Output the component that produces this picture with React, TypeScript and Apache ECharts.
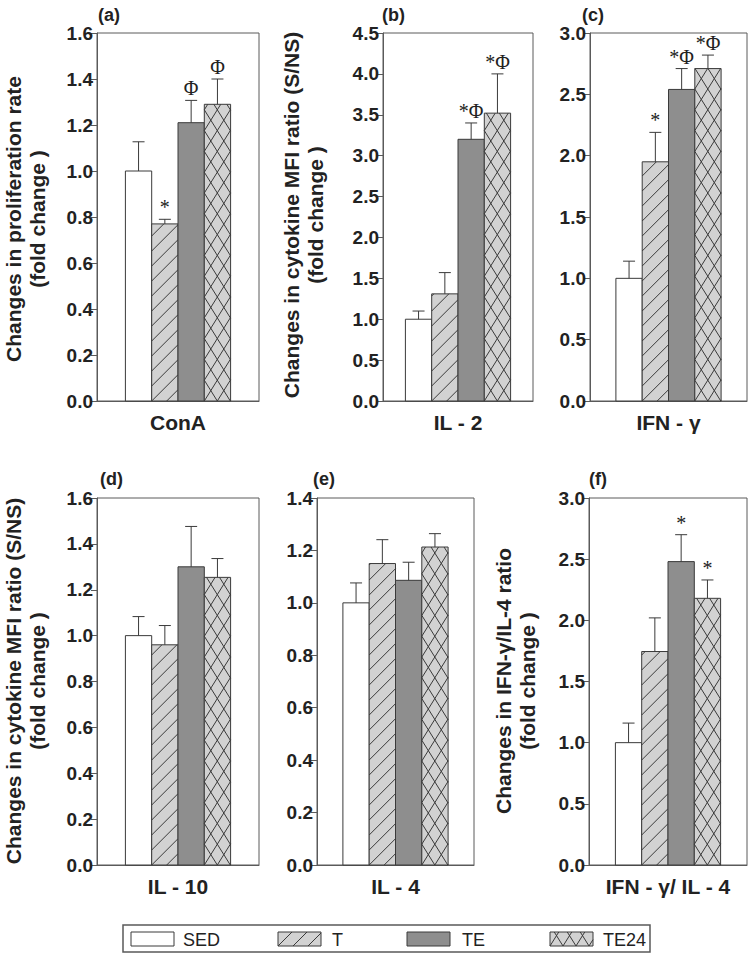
import React, { useEffect, useRef } from 'react';
import * as echarts from 'echarts';

// ---- data ----
const groups = ['SED', 'T', 'TE', 'TE24'];
const categories = ['ConA', 'IL - 2', 'IFN - γ', 'IL - 10', 'IL - 4', 'IFN - γ/ IL - 4'];
const panelLabels = ['(a)', '(b)', '(c)', '(d)', '(e)', '(f)'];
const yMax = [1.6, 4.5, 3.0, 1.6, 1.4, 3.0];
const yStep = [0.2, 0.5, 0.5, 0.2, 0.2, 0.5];

const conAMean = [1.0, 0.77, 1.21, 1.29];
const conASem = [0.127, 0.02, 0.097, 0.11];
const il2Mean = [1.0, 1.31, 3.2, 3.52];
const il2Sem = [0.1, 0.26, 0.2, 0.48];
const ifnMean = [1.0, 1.95, 2.54, 2.71];
const ifnSem = [0.14, 0.24, 0.17, 0.11];
const il10Mean = [1.0, 0.96, 1.3, 1.254];
const il10Sem = [0.083, 0.084, 0.176, 0.082];
const il4Mean = [1.0, 1.15, 1.086, 1.213];
const il4Sem = [0.076, 0.091, 0.069, 0.051];
const ratioMean = [1.0, 1.745, 2.48, 2.18];
const ratioSem = [0.16, 0.275, 0.22, 0.15];

const conAMarks = ['', '*', 'Φ', 'Φ'];
const il2Marks = ['', '', '*Φ', '*Φ'];
const ifnMarks = ['', '*', '*Φ', '*Φ'];
const il10Marks = ['', '', '', ''];
const il4Marks = ['', '', '', ''];
const ratioMarks = ['', '', '*', '*'];

const means = [conAMean, il2Mean, ifnMean, il10Mean, il4Mean, ratioMean];
const sems = [conASem, il2Sem, ifnSem, il10Sem, il4Sem, ratioSem];
const marks = [conAMarks, il2Marks, ifnMarks, il10Marks, il4Marks, ratioMarks];

const yTitleA = ['Changes in proliferation rate', '(fold change )'];
const yTitleB = ['Changes in cytokine MFI ratio (S/NS)', '(fold change )'];
const yTitleF = ['Changes in IFN-γ/IL-4 ratio', '(fold change )'];
const yTitles = [yTitleA, yTitleB, null, yTitleB, null, yTitleF];

// ---- layout / style ----
const panels = [
  { left: 97, top: 33, width: 162, height: 368 },
  { left: 383, top: 33, width: 150, height: 368 },
  { left: 590, top: 33, width: 157, height: 368 },
  { left: 97, top: 498, width: 162, height: 367 },
  { left: 317, top: 498, width: 157, height: 367 },
  { left: 589, top: 498, width: 158, height: 367 },
];
const titlePos = [[25, 219], [303, 215], null, [25, 681], null, [515, 681]];
const labelPos = [[98, 6], [382, 6], [582, 6], [100, 470], [313, 470], [589, 470]];

const FILLS = ['#ffffff', '#d2d2d2', '#8e8e8e', '#d2d2d2'];
const PATTERNS = ['none', 'diag', 'none', 'cross'];
const EDGE = '#3a3a3a';
const FRAME = '#5a5a5a';
const BAR_W = 26.3;
const SANS = '"Liberation Sans", Arial, sans-serif';
const SERIF = '"Liberation Serif", "Times New Roman", serif';

function hatch(x0: number, yTop: number, w: number, h: number, kind: string) {
  const out: any[] = [];
  if (kind === 'none' || h <= 0) return out;
  const yb = yTop + h;
  const fams: Array<[number, number]> = [];
  if (kind === 'diag') fams.push([1, 15]);
  if (kind === 'cross') {
    fams.push([1.6, 20.8]);
    fams.push([-1.6, 20.8]);
  }
  for (const [k, P] of fams) {
    const ak = Math.abs(k);
    const dMin = k > 0 ? -ak * w : 0;
    const dMax = k > 0 ? h : h + ak * w;
    const nStart = Math.floor(dMin / P) - 1;
    const nEnd = Math.ceil(dMax / P) + 1;
    for (let n = nStart; n <= nEnd; n++) {
      const d = n * P;
      let uA: number, uB: number;
      if (k > 0) {
        uA = (0 - d) / k;
        uB = (h - d) / k;
      } else {
        uA = (h - d) / k;
        uB = (0 - d) / k;
      }
      const lo = Math.max(0, Math.min(uA, uB));
      const hi = Math.min(w, Math.max(uA, uB));
      if (hi - lo < 0.3) continue;
      const w1 = k * lo + d;
      const w2 = k * hi + d;
      out.push({
        type: 'line',
        shape: { x1: x0 + lo, y1: yb - w1, x2: x0 + hi, y2: yb - w2 },
        style: { stroke: EDGE, lineWidth: 1 },
        silent: true,
      });
    }
  }
  return out;
}

function makeRender(p: number) {
  return (params: any, api: any) => {
    const gi = api.value(3);
    const mean = api.value(1);
    const sem = api.value(2);
    const c0 = api.coord([0, 0]);
    const c1 = api.coord([0, mean]);
    const c2 = api.coord([0, mean + sem]);
    const x0 = c0[0] - BAR_W * 2 + gi * BAR_W;
    const yt = c1[1];
    const h = c0[1] - c1[1];
    const cx = x0 + BAR_W / 2;
    const children: any[] = [];
    children.push({
      type: 'rect',
      shape: { x: x0, y: yt, width: BAR_W, height: h },
      style: { fill: FILLS[gi], stroke: null },
    });
    children.push(...hatch(x0, yt, BAR_W, h, PATTERNS[gi]));
    children.push({
      type: 'rect',
      shape: { x: x0, y: yt, width: BAR_W, height: h },
      style: { fill: null, stroke: EDGE, lineWidth: 1 },
    });
    children.push({
      type: 'line',
      shape: { x1: cx, y1: yt, x2: cx, y2: c2[1] },
      style: { stroke: EDGE, lineWidth: 1 },
    });
    children.push({
      type: 'line',
      shape: { x1: cx - 6, y1: c2[1], x2: cx + 6, y2: c2[1] },
      style: { stroke: EDGE, lineWidth: 1 },
    });
    const m = marks[p][params.dataIndex];
    if (m) {
      children.push({
        type: 'text',
        x: cx,
        y: c2[1] - 2,
        style: {
          text: m,
          fill: '#222',
          font: `20px ${SERIF}`,
          align: 'center',
          verticalAlign: 'bottom',
        },
      });
    }
    return { type: 'group', children };
  };
}

function buildOption() {
  const grid: any[] = [];
  const xAxis: any[] = [];
  const yAxis: any[] = [];
  const series: any[] = [];
  const graphic: any[] = [];

  panels.forEach((pn, p) => {
    grid.push({
      left: pn.left,
      top: pn.top,
      width: pn.width,
      height: pn.height,
      show: true,
      borderColor: FRAME,
      borderWidth: 1,
      backgroundColor: 'transparent',
      containLabel: false,
    });
    xAxis.push({
      type: 'category',
      gridIndex: p,
      data: [categories[p]],
      axisLine: { show: true, lineStyle: { color: FRAME, width: 1 } },
      axisTick: { show: false },
      axisLabel: {
        color: '#222',
        fontFamily: SANS,
        fontWeight: 'bold',
        fontSize: 21,
        margin: 11,
      },
      splitLine: { show: false },
    });
    yAxis.push({
      type: 'value',
      gridIndex: p,
      min: 0,
      max: yMax[p],
      interval: yStep[p],
      axisLine: { show: true, lineStyle: { color: FRAME, width: 1 } },
      axisTick: { show: true, inside: false, length: 6, lineStyle: { color: FRAME } },
      axisLabel: {
        color: '#222',
        fontFamily: SANS,
        fontWeight: 'bold',
        fontSize: 19,
        margin: 4,
        formatter: (v: number) => v.toFixed(1),
      },
      splitLine: { show: false },
    });
    series.push({
      type: 'custom',
      name: categories[p],
      xAxisIndex: p,
      yAxisIndex: p,
      clip: false,
      encode: { x: 0, y: 1 },
      data: groups.map((g, i) => [0, means[p][i], sems[p][i], i]),
      renderItem: makeRender(p),
    });
    const lp = labelPos[p];
    graphic.push({
      type: 'text',
      left: lp[0],
      top: lp[1],
      style: { text: panelLabels[p], fill: '#222', font: `bold 18px ${SANS}` },
    });
    const t = yTitles[p];
    const tp = titlePos[p];
    if (t && tp) {
      graphic.push({
        type: 'text',
        x: tp[0],
        y: tp[1],
        rotation: Math.PI / 2,
        style: {
          text: t.join('\n'),
          fill: '#222',
          font: `bold 21px ${SANS}`,
          align: 'center',
          verticalAlign: 'middle',
          lineHeight: 24,
        },
      });
    }
  });

  // legend
  const LX = [131, 278, 407, 550];
  const TX = [183, 332, 462, 603];
  const legendChildren: any[] = [
    {
      type: 'rect',
      shape: { x: 123, y: 925, width: 527, height: 27 },
      style: { fill: '#fff', stroke: FRAME, lineWidth: 1.5 },
    },
  ];
  groups.forEach((g, i) => {
    legendChildren.push({
      type: 'rect',
      shape: { x: LX[i], y: 932, width: 43, height: 14 },
      style: { fill: FILLS[i], stroke: null },
    });
    legendChildren.push(...hatch(LX[i], 932, 43, 14, PATTERNS[i]));
    legendChildren.push({
      type: 'rect',
      shape: { x: LX[i], y: 932, width: 43, height: 14 },
      style: { fill: null, stroke: EDGE, lineWidth: 1 },
    });
    legendChildren.push({
      type: 'text',
      x: TX[i],
      y: 940,
      style: { text: g, fill: '#222', font: `18px ${SANS}`, align: 'left', verticalAlign: 'middle' },
    });
  });
  graphic.push({ type: 'group', children: legendChildren });

  return {
    animation: false,
    backgroundColor: '#ffffff',
    grid,
    xAxis,
    yAxis,
    series,
    graphic,
  };
}

export default function App() {
  const ref = useRef<HTMLDivElement>(null);
  useEffect(() => {
    document.body.style.margin = '0';
    if (!ref.current) return;
    const chart = echarts.init(ref.current, null, { renderer: 'svg' });
    chart.setOption(buildOption() as any);
    return () => chart.dispose();
  }, []);
  return <div ref={ref} style={{ width: 749, height: 955 }} />;
}
